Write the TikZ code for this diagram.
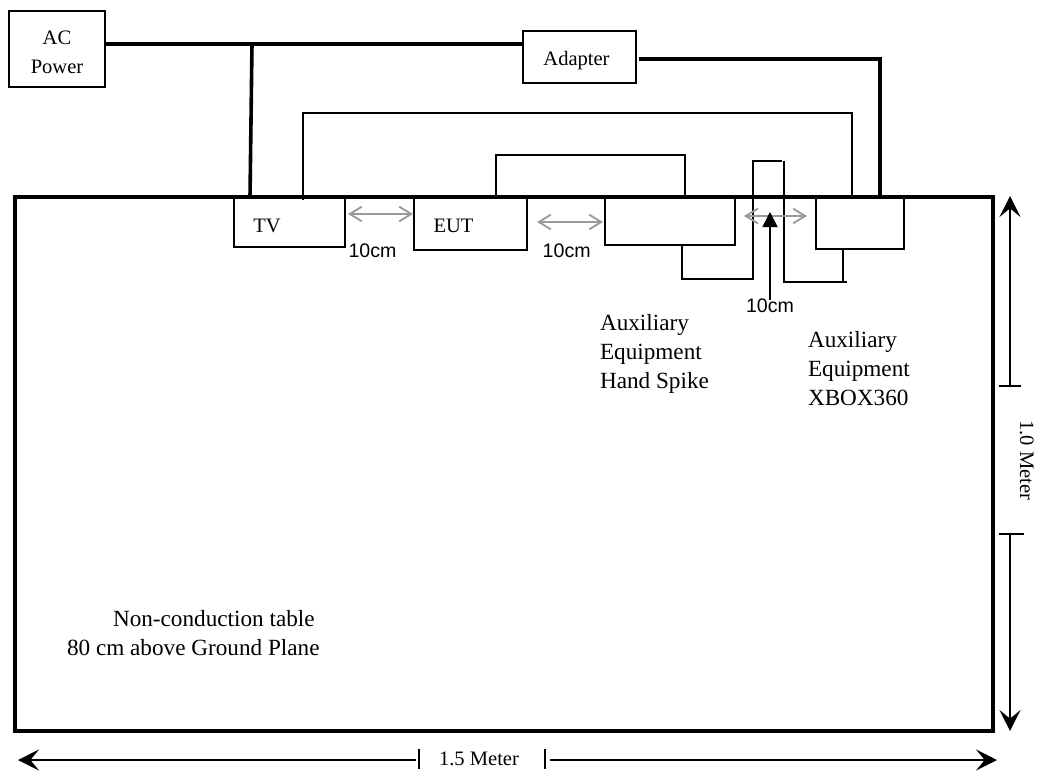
\documentclass[tikz,border=0pt]{standalone}
\usepackage{fontspec}
\setmainfont{Liberation Serif}
\newfontfamily\arialf{Liberation Sans}
\usetikzlibrary{arrows.meta}
\definecolor{gapgray}{HTML}{9A9A9A}
\tikzset{
  pbox/.style n args={2}{draw=black,line width=1.5pt,fill=none,inner sep=0pt,outer sep=0pt,anchor=north west,minimum width=#1*0.75pt,minimum height=#2*0.75pt},
  lbl/.style={inner sep=0pt,outer sep=0pt,anchor=base,font=\fontsize{15.4}{21.5}\selectfont},
  biglbl/.style={inner sep=0pt,outer sep=0pt,anchor=base west,align=left,font=\fontsize{17.4}{21.4}\selectfont},
  cmlbl/.style={inner sep=0pt,outer sep=0pt,anchor=base,font=\arialf\fontsize{14.7}{17}\selectfont},
  powerw/.style={line width=2.7pt,line join=miter},
  wirew/.style={line width=1.4pt,line join=miter},
  gaparrow/.style={draw=gapgray,line width=1.4pt,{Straight Barb[length=9pt,width=11pt,line width=1.4pt]}-{Straight Barb[length=9pt,width=11pt,line width=1.4pt]}},
  dimw/.style={line width=1.1pt},
  teew/.style={line width=1.3pt},
  bighead/.style={-{Stealth[length=15.75pt,width=15.75pt,inset=6.5pt]}},
}
\begin{document}
\begin{tikzpicture}[x=0.75pt,y=-0.75pt]
\useasboundingbox (0,0) rectangle (1039,771);
% boxes
\node[pbox={96}{76}] (ac) at (9,11) {};
\node[lbl] (actext) at (57,44) {AC};
\node[lbl] (powtext) at (57,73) {Power};
\node[pbox={113}{52}] (adapter) at (523,31) {};
\node[lbl] (adtext) at (576.5,65) {Adapter};
\node[pbox={978}{534},line width=2.4pt] (table) at (15,197) {};
\node[pbox={111}{50}] (tv) at (234,197) {};
\node[lbl] (tvtext) at (267,232.7) {TV};
\node[pbox={113}{53}] (eut) at (414,197) {};
\node[lbl] (euttext) at (453.5,232.7) {EUT};
\node[pbox={130}{48}] (aux1) at (605,197) {};
\node[pbox={88}{52}] (aux2) at (816,197) {};
% named junctions
\coordinate (acj) at (252,44);
\coordinate (actv) at (250,197);
\coordinate (acad) at (523,44);
\coordinate (adout) at (639,59);
\coordinate (adcorner) at (880,59);
\coordinate (adaux) at (880,197);
\coordinate (tvw) at (303,200);
\coordinate (tvwc) at (303,113);
\coordinate (auxwc) at (852,113);
\coordinate (auxw) at (852,197);
\coordinate (eutw) at (496,197);
\coordinate (eutwc) at (496,155);
\coordinate (a1wc) at (685,155);
\coordinate (a1w) at (685,197);
\coordinate (l1) at (682,245);
\coordinate (l2) at (682,279);
\coordinate (l3) at (753,279);
\coordinate (l4) at (753,161);
\coordinate (l5) at (782,161);
\coordinate (r1) at (784,161);
\coordinate (r2) at (784,282);
\coordinate (r3) at (847,282);
\coordinate (s1) at (843,249);
\coordinate (s2) at (843,282);
% power wiring
\draw[powerw] (ac.east |- acj) -- (acad);
\draw[powerw] (acj) -- (actv);
\draw[powerw] (adout) -- (adcorner) -- (adaux);
% signal wiring
\draw[wirew] (tvw) -- (tvwc) -- (auxwc) -- (auxw);
\draw[wirew] (eutw) -- (eutwc) -- (a1wc) -- (a1w);
\draw[wirew] (l1) -- (l2) -- (l3) -- (l4) -- (l5);
\draw[wirew] (r1) -- (r2) -- (r3);
\draw[wirew] (s1) -- (s2);
% spacing arrows
\coordinate (g1a) at (348,214); \coordinate (g1b) at (413,214);
\coordinate (g2a) at (537,222); \coordinate (g2b) at (603,222);
\coordinate (g3a) at (744,216); \coordinate (g3b) at (807,216);
\draw[gaparrow] (g1a) -- (g1b);
\draw[gaparrow] (g2a) -- (g2b);
\draw[gaparrow] (g3a) -- (g3b);
% 10 cm labels
\node[cmlbl] (c1) at (372.5,257) {10cm};
\node[cmlbl] (c2) at (566.7,257) {10cm};
\node[cmlbl] (c3) at (770,312.7) {10cm};
\coordinate (uptip) at (770,212);
\coordinate (upfoot) at (770,300);
\draw[wirew,-{Triangle[length=11.25pt,width=11.25pt]}] (upfoot) -- (uptip);
% notes
\node[biglbl] (n1) at (600,388) {Auxiliary\\Equipment\\Hand Spike};
\node[biglbl] (n2) at (808,405) {Auxiliary\\Equipment\\XBOX360};
\node[biglbl] (t1) at (113,626) {Non-conduction table};
\node[biglbl] (t2) at (67,655) {80 cm above Ground Plane};
% dimensions
\coordinate (vt) at (1010,196); \coordinate (vb) at (1010,386);
\coordinate (vt2) at (1010,534); \coordinate (vb2) at (1010,731);
\draw[dimw,bighead] (vb) -- (vt);
\draw[dimw,bighead] (vt2) -- (vb2);
\draw[teew] (999,386) -- (1021,386);
\draw[teew] (999,534) -- (1024,534);
\node[lbl,rotate=-90] (mv) at (1020,460.5) {1.0 Meter};
\coordinate (hl) at (18,760); \coordinate (hm1) at (416,760);
\coordinate (hm2) at (550,760); \coordinate (hr) at (997,760);
\draw[dimw,bighead] (hm1) -- (hl);
\draw[dimw,bighead] (hm2) -- (hr);
\draw[teew] (419,749) -- (419,769);
\draw[teew] (545,749) -- (545,769);
\node[lbl] (mh) at (479,765.6) {1.5 Meter};
\end{tikzpicture}
\end{document}
